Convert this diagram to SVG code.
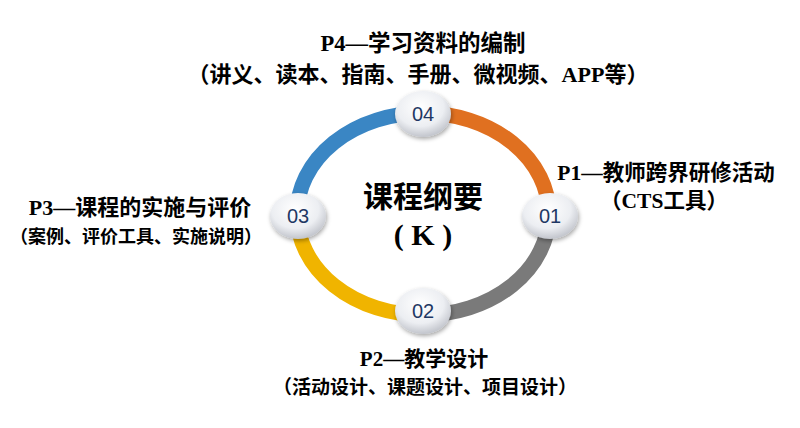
<svg xmlns="http://www.w3.org/2000/svg" width="800" height="428" viewBox="0 0 800 428">
<style>
.t{font-family:"Liberation Serif","Noto Sans CJK SC",serif;font-weight:bold;fill:#000;text-anchor:middle}
.n{font-family:"Liberation Sans","Noto Sans",sans-serif;font-size:20px;fill:#1f3864;text-anchor:middle}
.arc{fill:none;stroke-width:15}
</style>
<defs>
<radialGradient id="ball" cx="0.45" cy="0.35" r="0.7">
<stop offset="0" stop-color="#ffffff"/><stop offset="0.6" stop-color="#eceef2"/><stop offset="1" stop-color="#b9bcc4"/>
</radialGradient>
<filter id="sh" x="-30%" y="-30%" width="160%" height="160%"><feDropShadow dx="1" dy="2" stdDeviation="2" flood-opacity="0.35"/></filter>
</defs>
<rect width="800" height="428" fill="#fff"/>
<g id="connectors">
<path class="arc" stroke="#e07020" d="M423,113 A126,101 0 0 1 549,214"/>
<path class="arc" stroke="#7a7a7a" d="M549,214 A126,101 0 0 1 423,315"/>
<path class="arc" stroke="#f0b400" d="M423,315 A126,101 0 0 1 297,214"/>
<path class="arc" stroke="#3a86c4" d="M297,214 A126,101 0 0 1 423,113"/>
</g>
<g id="center">
<text class="t" x="423" y="207" font-size="30">课程纲要</text>
<text class="t" x="423" y="245" font-size="30">( K )</text>
</g>
<g id="n04"><ellipse cx="423" cy="114" rx="28" ry="23" fill="url(#ball)" filter="url(#sh)"/><text class="n" x="423" y="121">04</text></g>
<g id="n01"><ellipse cx="550" cy="216" rx="28" ry="23" fill="url(#ball)" filter="url(#sh)"/><text class="n" x="550" y="223">01</text></g>
<g id="n02"><ellipse cx="423" cy="311" rx="28" ry="23" fill="url(#ball)" filter="url(#sh)"/><text class="n" x="423" y="318">02</text></g>
<g id="n03"><ellipse cx="298" cy="216" rx="28" ry="23" fill="url(#ball)" filter="url(#sh)"/><text class="n" x="298" y="223">03</text></g>
<g id="l04"><text class="t" x="423" y="51" font-size="22.5">P4—学习资料的编制</text><text class="t" x="418" y="82" font-size="22">（讲义、读本、指南、手册、微视频、APP等）</text></g>
<g id="l01"><text class="t" x="666" y="180" font-size="21.5">P1—教师跨界研修活动</text><text class="t" x="664" y="208" font-size="21.5">（CTS工具）</text></g>
<g id="l02"><text class="t" x="424" y="366" font-size="21">P2—教学设计</text><text class="t" x="425" y="394" font-size="19">（活动设计、课题设计、项目设计）</text></g>
<g id="l03"><text class="t" x="140" y="215" font-size="22">P3—课程的实施与评价</text><text class="t" x="136" y="243" font-size="18">（案例、评价工具、实施说明）</text></g>
</svg>
